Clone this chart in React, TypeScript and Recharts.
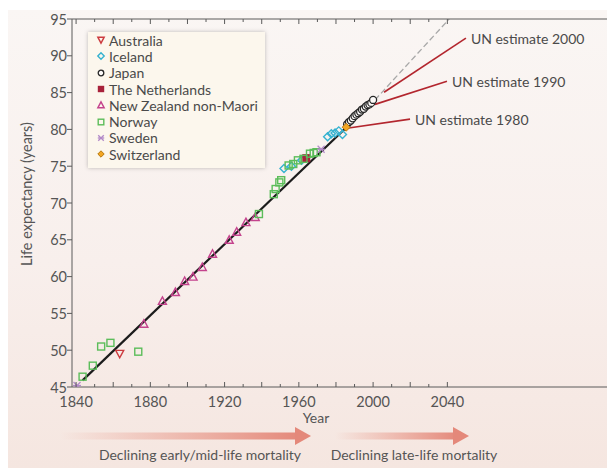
import React from "react";
import { ComposedChart, Scatter, Line, XAxis, YAxis, Legend } from "recharts";

const australiaYears = [1863.5];
const australiaValues = [49.5];

const icelandYears = [1952, 1956, 1961.5, 1975.5, 1977.5, 1979.5, 1981.5, 1983.5];
const icelandValues = [74.7, 75.0, 75.8, 79.0, 79.4, 79.5, 79.8, 79.3];

const japanYears = [1986, 1987, 1988, 1989, 1990, 1991, 1992, 1993, 1994, 1995, 1996, 1997, 1998, 1999, 2000];
const japanValues = [80.7, 81.0, 81.2, 81.5, 81.8, 82.0, 82.2, 82.4, 82.7, 82.8, 83.1, 83.3, 83.4, 83.6, 84.0];

const netherlandsYears = [1964];
const netherlandsValues = [76.1];

const nzYears = [1876.5, 1886.5, 1893.5, 1898.5, 1903, 1908, 1913.5, 1922.5, 1926.5, 1931.5, 1936.5];
const nzValues = [53.6, 56.7, 57.9, 59.4, 60.0, 61.3, 63.1, 65.0, 66.1, 67.4, 68.1];

const norwayYears = [1843.5, 1849, 1853.5, 1858.5, 1873.5, 1938.5, 1946.5, 1947.5, 1949.5, 1950.5, 1954.5, 1957, 1959.5, 1962.5, 1966, 1968, 1969.5];
const norwayValues = [46.4, 47.9, 50.5, 51.0, 49.8, 68.5, 71.2, 71.9, 72.8, 73.1, 75.1, 75.3, 75.8, 76.0, 76.7, 76.8, 76.9];

const swedenYears = [1840.5, 1972];
const swedenValues = [45.2, 77.3];

const switzerlandYears = [1985.5];
const switzerlandValues = [80.3];

// linear trend and its extrapolation
const trendYears = [1843.5, 2001];
const trendValues = [45.9, 84.0];
const projectionYears = [2001, 2041];
const projectionValues = [84.0, 95];

// UN estimate leader lines
const un1980Years = [1985.9, 2019.9];
const un1980Values = [80.15, 81.4];
const un1990Years = [2001, 2039.8];
const un1990Values = [83.4, 86.55];
const un2000Years = [2005.9, 2050];
const un2000Values = [85.05, 92.4];

const xTicks = [1840, 1850, 1860, 1870, 1880, 1890, 1900, 1910, 1920, 1930, 1940, 1950, 1960, 1970, 1980, 1990, 2000, 2010, 2020, 2030, 2040];
const yTicks = [45, 50, 55, 60, 65, 70, 75, 80, 85, 90, 95];

const toPoints = (xs: number[], ys: number[]) => xs.map((x, i) => ({ x, y: ys[i] }));

type Kind = "triDown" | "diamond" | "circle" | "squareFill" | "tri" | "square" | "star" | "diamondFill";

const countries: { name: string; kind: Kind; color: string; fill?: string; data: { x: number; y: number }[] }[] = [
  { name: "Australia", kind: "triDown", color: "#cc3b3f", data: toPoints(australiaYears, australiaValues) },
  { name: "Iceland", kind: "diamond", color: "#35b2d0", data: toPoints(icelandYears, icelandValues) },
  { name: "Japan", kind: "circle", color: "#262626", data: toPoints(japanYears, japanValues) },
  { name: "The Netherlands", kind: "squareFill", color: "#a8223a", data: toPoints(netherlandsYears, netherlandsValues) },
  { name: "New Zealand non-Maori", kind: "tri", color: "#c4438d", data: toPoints(nzYears, nzValues) },
  { name: "Norway", kind: "square", color: "#5cbd5a", data: toPoints(norwayYears, norwayValues) },
  { name: "Sweden", kind: "star", color: "#b289c8", data: toPoints(swedenYears, swedenValues) },
  { name: "Switzerland", kind: "diamondFill", color: "#b87a10", fill: "#f3a623", data: toPoints(switzerlandYears, switzerlandValues) },
];

const Marker = ({ kind, cx, cy, color, fill, s = 1 }: { kind: Kind; cx: number; cy: number; color: string; fill?: string; s?: number }) => {
  const sw = 1.4;
  const a = 4 * s;
  const b = 3.5 * s;
  switch (kind) {
    case "triDown":
      return <polygon points={`${cx - a},${cy - b} ${cx + a},${cy - b} ${cx},${cy + a}`} fill="none" stroke={color} strokeWidth={sw} />;
    case "tri":
      return <polygon points={`${cx},${cy - a} ${cx + a},${cy + b} ${cx - a},${cy + b}`} fill="none" stroke={color} strokeWidth={sw} />;
    case "diamond":
      return <polygon points={`${cx},${cy - a} ${cx + a},${cy} ${cx},${cy + a} ${cx - a},${cy}`} fill="none" stroke={color} strokeWidth={sw} />;
    case "diamondFill":
      return <polygon points={`${cx},${cy - a} ${cx + a},${cy} ${cx},${cy + a} ${cx - a},${cy}`} fill={fill} stroke={color} strokeWidth={1} />;
    case "circle":
      return <circle cx={cx} cy={cy} r={b} fill="#fdfbfa" stroke={color} strokeWidth={1.3} />;
    case "square":
      return <rect x={cx - b} y={cy - b} width={2 * b} height={2 * b} fill="none" stroke={color} strokeWidth={sw} />;
    case "squareFill":
      return <rect x={cx - a} y={cy - a} width={2 * a} height={2 * a} fill={color} />;
    case "star":
      return (
        <g stroke={color} strokeWidth={1.3}>
          <line x1={cx - b} y1={cy - b} x2={cx + b} y2={cy + b} />
          <line x1={cx - b} y1={cy + b} x2={cx + b} y2={cy - b} />
          <line x1={cx - a} y1={cy} x2={cx + a} y2={cy} />
        </g>
      );
  }
  return null;
};

const axisColor = "#5a5a5a";
const textColor = "#4a4a4a";

const BottomTick = (props: any) => {
  const { x, y, payload } = props;
  const v = payload.value;
  const len = v % 20 === 0 ? 5 : 3;
  return (
    <g>
      <line x1={x} x2={x} y1={y} y2={y - len} stroke={axisColor} strokeWidth={1} />
      {v % 40 === 0 && (
        <text x={x} y={y + 20} textAnchor="middle" fontSize={14.5} fill="#555">
          {v}
        </text>
      )}
    </g>
  );
};

const TopTick = (props: any) => {
  const { x, y, payload } = props;
  const len = payload.value % 20 === 0 ? 5 : 3;
  return <line x1={x} x2={x} y1={y} y2={y + len} stroke={axisColor} strokeWidth={1} />;
};

const LeftTick = (props: any) => {
  const { x, y, payload } = props;
  return (
    <g>
      <line x1={x - 5} x2={x} y1={y} y2={y} stroke={axisColor} strokeWidth={1} />
      <text x={x - 5} y={y} textAnchor="end" dominantBaseline="central" fontSize={14.5} fill="#555">
        {payload.value}
      </text>
    </g>
  );
};

const unLabel = (text: string, count: number) => (props: any) => {
  const { x, y, index } = props;
  if (index !== count - 1) return null;
  return (
    <text x={x + 5} y={y} dominantBaseline="central" fontSize={14} fill={textColor}>
      {text}
    </text>
  );
};

const renderLegend = () => (
  <div
    style={{
      background: "#fcf7ed",
      boxShadow: "0 0 4px rgba(0,0,0,0.25)",
      padding: "0 0 0 8px",
      width: 177,
      height: 136,
      boxSizing: "border-box",
      fontFamily: "Lato",
    }}
  >
    {countries.map((c) => (
      <div key={c.name} style={{ display: "flex", alignItems: "center", height: 16.3, fontSize: 14, color: textColor }}>
        <svg width={10} height={10} style={{ overflow: "visible" }}>
          <Marker kind={c.kind} cx={5} cy={5} color={c.color} fill={c.fill} s={0.8} />
        </svg>
        <span style={{ marginLeft: 3, whiteSpace: "nowrap" }}>{c.name}</span>
      </div>
    ))}
  </div>
);

export default function App() {
  return (
    <div style={{ position: "absolute", left: 0, top: 0, width: 607, height: 468, background: "#fff", fontFamily: "Lato" }}>
      <div
        style={{
          position: "absolute",
          left: 8,
          top: 10,
          right: 0,
          bottom: 0,
          background: "linear-gradient(180deg, #faf6f4 0%, #f8efec 55%, #f5e6e0 100%)",
        }}
      />
      <div style={{ position: "absolute", left: 0, top: 0 }}>
        <ComposedChart width={607} height={468} margin={{ top: 18, right: 0, bottom: 51, left: 12 }}>
          <XAxis
            xAxisId="bottom"
            type="number"
            dataKey="x"
            domain={[1837.8, 2126]}
            allowDataOverflow
            ticks={xTicks}
            interval={0}
            height={30}
            tickSize={0}
            tickMargin={0}
            tickLine={false}
            tick={<BottomTick />}
            axisLine={{ stroke: axisColor }}
          />
          <XAxis
            xAxisId="top"
            orientation="top"
            type="number"
            dataKey="x"
            domain={[1837.8, 2126]}
            allowDataOverflow
            ticks={xTicks}
            interval={0}
            height={1}
            tickSize={0}
            tickMargin={0}
            tickLine={false}
            tick={<TopTick />}
            axisLine={{ stroke: axisColor }}
          />
          <YAxis
            type="number"
            dataKey="y"
            domain={[45, 95]}
            allowDataOverflow
            ticks={yTicks}
            interval={0}
            width={60}
            tickSize={0}
            tickMargin={0}
            tickLine={false}
            tick={<LeftTick />}
            axisLine={{ stroke: axisColor }}
          />
          <Legend
            layout="vertical"
            align="center"
            verticalAlign="middle"
            content={renderLegend}
            wrapperStyle={{ position: "absolute", left: 88, top: 32, width: 177, height: 136 }}
          />
          <Line
            xAxisId="bottom"
            data={toPoints(projectionYears, projectionValues)}
            dataKey="y"
            stroke="#a8a8a8"
            strokeWidth={1.3}
            strokeDasharray="6 3"
            dot={false}
            activeDot={false}
            legendType="none"
            isAnimationActive={false}
          />
          <Line
            xAxisId="bottom"
            data={toPoints(trendYears, trendValues)}
            dataKey="y"
            stroke="#1c1c1c"
            strokeWidth={2.2}
            dot={false}
            activeDot={false}
            legendType="none"
            isAnimationActive={false}
          />
          {[
            { xs: un1980Years, ys: un1980Values, label: "UN estimate 1980" },
            { xs: un1990Years, ys: un1990Values, label: "UN estimate 1990" },
            { xs: un2000Years, ys: un2000Values, label: "UN estimate 2000" },
          ].map((u) => (
            <Line
              key={u.label}
              xAxisId="bottom"
              data={toPoints(u.xs, u.ys)}
              dataKey="y"
              stroke="#b3262e"
              strokeWidth={1.6}
              dot={false}
              activeDot={false}
              legendType="none"
              isAnimationActive={false}
              label={unLabel(u.label, u.xs.length)}
            />
          ))}
          {countries.map((c) => (
            <Scatter
              key={c.name}
              name={c.name}
              xAxisId="bottom"
              data={c.data}
              isAnimationActive={false}
              shape={(p: any) => <Marker kind={c.kind} cx={p.cx} cy={p.cy} color={c.color} fill={c.fill} />}
            />
          ))}
        </ComposedChart>
      </div>
      <svg width={607} height={468} style={{ position: "absolute", left: 0, top: 0, pointerEvents: "none" }}>
        <defs>
          <linearGradient id="arrowA" x1="60" x2="300" y1="0" y2="0" gradientUnits="userSpaceOnUse">
            <stop offset="0" stopColor="#e8917f" stopOpacity={0} />
            <stop offset="1" stopColor="#e4887a" stopOpacity={1} />
          </linearGradient>
          <linearGradient id="arrowB" x1="335" x2="458" y1="0" y2="0" gradientUnits="userSpaceOnUse">
            <stop offset="0" stopColor="#e8917f" stopOpacity={0} />
            <stop offset="1" stopColor="#e4887a" stopOpacity={1} />
          </linearGradient>
        </defs>
        <text x={26} y={194} transform="rotate(-90 26 194)" textAnchor="middle" dominantBaseline="central" fontSize={14.5} fill="#555">
          Life expectancy (years)
        </text>
        <text x={316} y={423} textAnchor="middle" fontSize={14} fill="#555">
          Year
        </text>
        <rect x={60} y={432.5} width={238} height={7} fill="url(#arrowA)" />
        <polygon points="295,427 311,436 295,445" fill="#e4887a" />
        <rect x={335} y={432.5} width={120} height={7} fill="url(#arrowB)" />
        <polygon points="453,427 469,436 453,445" fill="#e4887a" />
        <text x={200} y={460} textAnchor="middle" fontSize={14} fill="#555">
          Declining early/mid-life mortality
        </text>
        <text x={414} y={460} textAnchor="middle" fontSize={14} fill="#555">
          Declining late-life mortality
        </text>
      </svg>
    </div>
  );
}
